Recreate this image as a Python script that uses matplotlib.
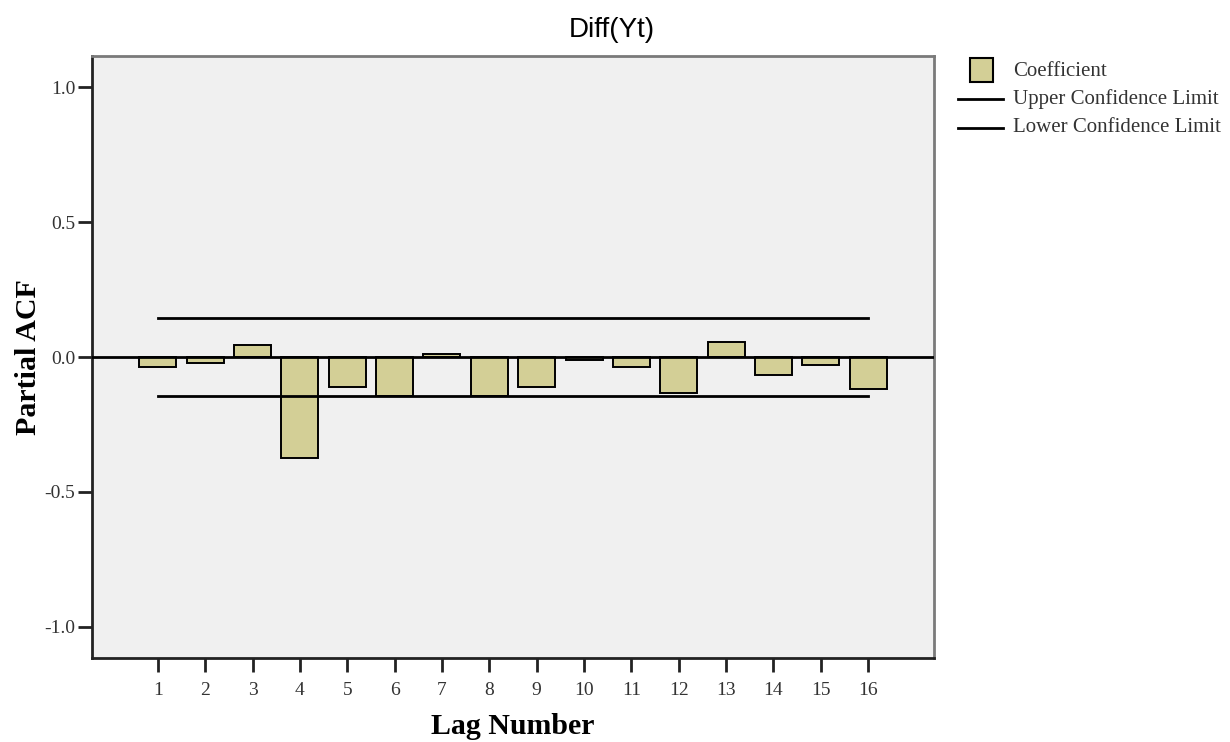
import matplotlib
matplotlib.use("Agg")
import matplotlib.pyplot as plt
from matplotlib.patches import Rectangle
from matplotlib.lines import Line2D

lags = list(range(1, 17))
pacf = [-0.037, -0.022, 0.044, -0.374, -0.111, -0.144, 0.010, -0.144,
        -0.111, -0.011, -0.037, -0.133, 0.056, -0.067, -0.030, -0.119]
upper_limit = 0.144
lower_limit = -0.144
yticks = [-1.0, -0.5, 0.0, 0.5, 1.0]
ytick_labels = ["-1.0", "-0.5", "0.0", "0.5", "1.0"]
title = "Diff(Yt)"
legend_labels = ["Coefficient", "Upper Confidence Limit", "Lower Confidence Limit"]

W, H = 1230, 742
fig = plt.figure(figsize=(W / 100, H / 100), dpi=100)
fig.patch.set_facecolor("white")

L, R, T, B = 92, 934, 56, 658
ax = fig.add_axes([L / W, 1 - B / H, (R - L) / W, (B - T) / H])
ax.set_facecolor("#F0F0F0")

serif = ["Liberation Serif", "DejaVu Serif"]
bar_color = "#D3CF96"

ax.bar(lags, pacf, width=0.78, color=bar_color, edgecolor="black", linewidth=1.4, zorder=2)
ax.axhline(0, color="black", linewidth=2, zorder=3)
ax.plot([lags[0], lags[-1]], [upper_limit, upper_limit], color="black", linewidth=2, zorder=3)
ax.plot([lags[0], lags[-1]], [lower_limit, lower_limit], color="black", linewidth=2, zorder=3)

ax.set_xlim(-0.39, 17.39)
ax.set_ylim(-1.115, 1.115)
ax.set_xticks(lags)
ax.set_xticklabels([str(v) for v in lags], fontfamily=serif, fontsize=14, color="#333333")
ax.set_yticks(yticks)
ax.set_yticklabels(ytick_labels, fontfamily=serif, fontsize=14, color="#333333")
ax.tick_params(axis="x", length=10, width=2, pad=7, color="#222222")
ax.tick_params(axis="y", length=10, width=2, pad=2, color="#222222")

for side in ["left", "bottom"]:
    ax.spines[side].set_color("#222222")
    ax.spines[side].set_linewidth(2)
for side in ["top", "right"]:
    ax.spines[side].set_color("#7a7a7a")
    ax.spines[side].set_linewidth(2)

ax.set_xlabel("Lag Number", fontfamily=serif, fontsize=21.5, fontweight="bold", labelpad=10)
ax.set_ylabel("Partial ACF", fontfamily=serif, fontsize=21.5, fontweight="bold", labelpad=2)

fig.text(612 / W, 1 - 30 / H, title, ha="center", va="center",
         fontfamily=["Liberation Sans", "DejaVu Sans"], fontsize=20, color="black")

# legend (manual, figure pixel coordinates)
def fx(x):
    return x / W

def fy(y):
    return 1 - y / H

fig.add_artist(Rectangle((fx(970), fy(82)), 23 / W, 24 / H, transform=fig.transFigure,
                         facecolor=bar_color, edgecolor="black", linewidth=1.5))
for yy in [99, 128]:
    fig.add_artist(Line2D([fx(958), fx(1003)], [fy(yy), fy(yy)], transform=fig.transFigure,
                          color="black", linewidth=2))
for yy, lab in zip([71, 99, 128], legend_labels):
    fig.text(fx(1013), fy(yy), lab, ha="left", va="center", fontfamily=serif,
             fontsize=15, color="#333333")

fig.savefig("out.png", dpi=100)
